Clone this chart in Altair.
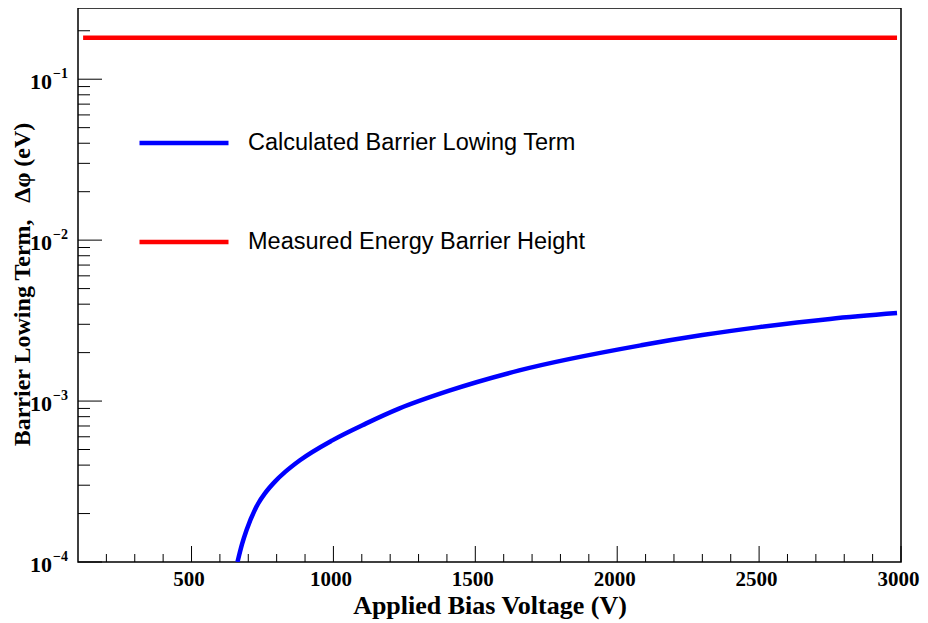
import altair as alt
import pandas as pd

# ---- data ----
calc_label = "Calculated Barrier Lowing Term"
meas_label = "Measured Energy Barrier Height"

calc_voltage = [662, 678, 694, 735, 760, 794, 830, 882, 996, 1114, 1231, 1408, 1655, 2084, 2300,
                2500, 2750, 2986]
calc_dphi = [1.0e-4, 1.29e-4, 1.58e-4, 2.31e-4, 2.69e-4, 3.16e-4, 3.63e-4, 4.29e-4, 5.70e-4,
             7.24e-4, 8.97e-4, 1.16e-3, 1.55e-3, 2.22e-3, 2.57e-3, 2.88e-3, 3.24e-3, 3.52e-3]

meas_voltage = [118, 2986]
meas_phi = [0.181, 0.181]

x_major = [500, 1000, 1500, 2000, 2500, 3000]
x_minor = [v for v in range(200, 3000, 100) if v % 500 != 0]
y_major = [1e-4, 1e-3, 1e-2, 1e-1]
y_exp = ["\u22124", "\u22123", "\u22122", "\u22121"]
y_minor = [m * d for d in [1e-4, 1e-3, 1e-2] for m in range(2, 10)] + [0.2]

W, H = 823, 554
X_DOM = [100, 3000]
Y_DOM = [1e-4, 0.277]

lines = pd.DataFrame({
    "V": calc_voltage + meas_voltage,
    "phi": calc_dphi + meas_phi,
    "series": [calc_label] * len(calc_voltage) + [meas_label] * len(meas_voltage),
})

xs = alt.Scale(domain=X_DOM, nice=False, zero=False)
ys = alt.Scale(type="log", domain=Y_DOM, nice=False)

serif = "Liberation Serif"

line_layer = alt.Chart(lines).mark_line(strokeWidth=4.5, clip=True, interpolate="monotone").encode(
    x=alt.X("V:Q", scale=xs, axis=alt.Axis(
        values=x_major, format="d", grid=False, ticks=False, domain=False, labelFont=serif,
        labelFontWeight="bold", labelFontSize=21, labelPadding=6, labelColor="black",
        labelFlush=False, labelOverlap=False, labelOffset=-3,
        title="Applied Bias Voltage (V)", titleFont=serif, titleFontWeight="bold",
        titleFontSize=26, titleColor="black", titleY=51, titleBaseline="alphabetic")),
    y=alt.Y("phi:Q", scale=ys, axis=alt.Axis(
        labels=False, ticks=False, domain=False, grid=False,
        title="Barrier Lowing Term,\u2002\u2009\u0394\u03c6 (eV)", titleFont=serif, titleFontWeight="bold",
        titleFontSize=24, titleColor="black", titleX=-56, titleY=276, titleAngle=270,
        titleAlign="center", titleBaseline="middle")),
    color=alt.Color("series:N", scale=alt.Scale(domain=[calc_label, meas_label], range=["#0000ff", "#ff0000"]),
                    legend=alt.Legend(title=None, orient="none", legendX=59, legendY=88,
                                      symbolType="stroke", symbolSize=7921, symbolStrokeWidth=4.5,
                                      labelFont="Liberation Sans", labelFontSize=23.5, labelColor="black",
                                      labelOffset=17, rowPadding=40, padding=0, labelLimit=600)),
    order=alt.Order("V:Q"),
)

ymaj_df = pd.DataFrame({"y": y_major, "exp": y_exp, "base": ["10"] * 4})
ymin_df = pd.DataFrame({"y": y_minor})
xmaj_df = pd.DataFrame({"x": x_major})
xmin_df = pd.DataFrame({"x": x_minor})

ytick_major = alt.Chart(ymaj_df).mark_rule(color="black", strokeWidth=1).encode(
    y=alt.Y("y:Q", scale=ys), x=alt.value(0), x2=alt.value(24))
ytick_minor = alt.Chart(ymin_df).mark_rule(color="black", strokeWidth=1).encode(
    y=alt.Y("y:Q", scale=ys), x=alt.value(0), x2=alt.value(12))
xtick_major = alt.Chart(xmaj_df).mark_rule(color="black", strokeWidth=1).encode(
    x=alt.X("x:Q", scale=xs), y=alt.value(H), y2=alt.value(H - 16))
xtick_minor = alt.Chart(xmin_df).mark_rule(color="black", strokeWidth=1).encode(
    x=alt.X("x:Q", scale=xs), y=alt.value(H), y2=alt.value(H - 8))

ylab_base = alt.Chart(ymaj_df).mark_text(font=serif, fontWeight="bold", fontSize=22, align="right",
                                         baseline="middle", dy=3, color="black").encode(
    y=alt.Y("y:Q", scale=ys), x=alt.value(-26), text="base:N")
ylab_exp = alt.Chart(ymaj_df).mark_text(font=serif, fontWeight="bold", fontSize=14, align="left",
                                        baseline="middle", dy=-5, color="black").encode(
    y=alt.Y("y:Q", scale=ys), x=alt.value(-25), text="exp:N")

chart = alt.layer(
    line_layer, ytick_major, ytick_minor, xtick_major, xtick_minor, ylab_base, ylab_exp
).properties(
    width=W, height=H, padding={"left": 70, "top": 0, "right": 19, "bottom": 61},
    autosize=alt.AutoSizeParams(type="none"), background="white"
).configure_view(stroke="black", strokeWidth=1.5)

chart.save("out.html", embed_options={"renderer": "svg", "actions": False})
